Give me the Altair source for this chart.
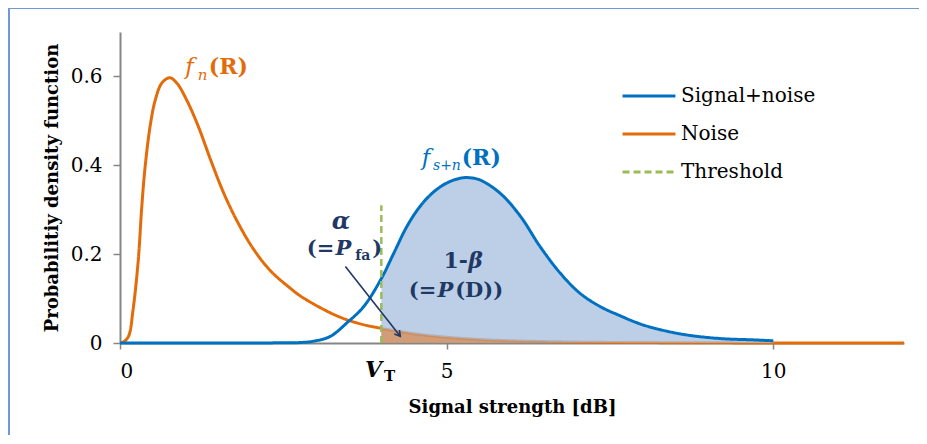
import altair as alt
import pandas as pd

# ---------------- data ----------------
X_DOMAIN = [0, 12]
Y_DOMAIN = [0, 0.7]
VT = 4.0
THRESH_TOP = 0.31

signal_x = [0, 1, 2, 2.5, 2.75, 2.96, 3.22, 3.47, 3.73, 4.0, 4.19, 4.39, 4.59, 4.80, 5.0,
            5.21, 5.35, 5.51, 5.82, 6.13, 6.43, 6.74, 7.04, 7.35, 7.66, 7.96, 8.27, 8.68,
            9.19, 9.7, 10.0]
signal_y = [0, 0, 0, 0.0005, 0.001, 0.004, 0.015, 0.045, 0.082, 0.145, 0.202, 0.262, 0.307,
            0.340, 0.360, 0.371, 0.372, 0.367, 0.337, 0.285, 0.217, 0.157, 0.112, 0.082,
            0.061, 0.043, 0.030, 0.018, 0.010, 0.007, 0.005]

noise_x = [0, 0.05, 0.13, 0.2, 0.28, 0.33, 0.38, 0.46, 0.54, 0.64, 0.76, 0.87, 1.02, 1.2,
           1.38, 1.58, 1.79, 2.04, 2.30, 2.60, 2.76, 3.06, 3.37, 3.68, 4.0, 4.5, 5.0, 5.5,
           6.0, 7.0, 8.0, 9.0, 10.0, 12.0]
noise_y = [0, 0.002, 0.015, 0.075, 0.187, 0.30, 0.39, 0.487, 0.547, 0.585, 0.597, 0.585,
           0.547, 0.487, 0.415, 0.340, 0.275, 0.212, 0.163, 0.124, 0.106, 0.080, 0.058,
           0.043, 0.033, 0.021, 0.013, 0.008, 0.005, 0.002, 0.001, 0.0005, 0, 0]

x_ticks = [0, 5, 10]
y_ticks = [0, 0.2, 0.4, 0.6]
series_names = ["Signal+noise", "Noise", "Threshold"]
series_colors = ["#0070C0", "#E36C0A", "#9BBB59"]
series_dash = [[1, 0], [1, 0], [7, 4]]

# arrow (alpha -> tail area), in data units
arrow_x = [3.45, 4.29]
arrow_y = [0.172, 0.015]

NAVY = "#1F3864"
FONT = "DejaVu Serif"

# annotation pieces: text, x, y (data units, left/baseline anchor), colour, size, style, weight
annotations = [
    ("f", 1.0, 0.606, series_colors[1], 23, "italic", "normal"),
    ("n", 1.19, 0.593, series_colors[1], 15, "italic", "normal"),
    ("(R)", 1.36, 0.606, series_colors[1], 22, "normal", "bold"),
    ("f", 4.62, 0.401, series_colors[0], 23, "italic", "normal"),
    ("s+n", 4.79, 0.390, series_colors[0], 14, "italic", "normal"),
    ("(R)", 5.23, 0.401, series_colors[0], 22, "normal", "bold"),
    ("α", 3.24, 0.257, NAVY, 24, "italic", "bold"),
    ("(=", 2.86, 0.199, NAVY, 21, "normal", "bold"),
    ("P", 3.30, 0.199, NAVY, 21, "italic", "bold"),
    ("fa", 3.60, 0.187, NAVY, 14, "normal", "bold"),
    (")", 3.86, 0.199, NAVY, 21, "normal", "bold"),
    ("1-", 4.95, 0.169, NAVY, 22, "normal", "bold"),
    ("β", 5.33, 0.169, NAVY, 22, "italic", "bold"),
    ("(=", 4.42, 0.104, NAVY, 21, "normal", "bold"),
    ("P", 4.86, 0.104, NAVY, 21, "italic", "bold"),
    ("(D))", 5.13, 0.104, NAVY, 21, "normal", "bold"),
    ("V", 3.75, -0.076, "#000000", 22, "italic", "bold"),
    ("T", 4.04, -0.085, "#000000", 15, "normal", "bold"),
]

# ---------------- chart ----------------
W, H = 784, 311

curves = pd.DataFrame({
    "x": signal_x + noise_x,
    "y": signal_y + noise_y,
    "series": ["Signal+noise"] * len(signal_x) + ["Noise"] * len(noise_x),
})
thr = pd.DataFrame({"x": [VT, VT], "y": [0, THRESH_TOP], "series": ["Threshold"] * 2})
arrow = pd.DataFrame({"x": arrow_x, "y": arrow_y})

xs = alt.Scale(domain=X_DOMAIN, nice=False, zero=False)
ys = alt.Scale(domain=Y_DOMAIN, nice=False)

legend = alt.Legend(
    title=None, orient="none", legendX=501, legendY=36,
    symbolType="stroke", symbolSize=2800, symbolStrokeWidth=3,
    labelFont=FONT, labelFontSize=20, labelColor="#000000",
    rowPadding=-3, labelOffset=4,
)
color = alt.Color("series:N", scale=alt.Scale(domain=series_names, range=series_colors), legend=legend)
dash = alt.StrokeDash("series:N", scale=alt.Scale(domain=series_names, range=series_dash), legend=legend)

x_axis = alt.Axis(
    values=x_ticks, format="d", title="Signal strength [dB]", grid=False,
    titleFont=FONT, titleFontSize=18, titleFontWeight="bold", titleColor="#000000", titlePadding=17,
    labelFont=FONT, labelFontSize=20, labelColor="#000000", labelPadding=12,
    tickSize=6, tickColor="#868686", tickWidth=1.5, domainColor="#868686", domainWidth=2,
)
y_axis = alt.Axis(
    values=y_ticks, labelExpr="datum.value == 0 ? '0' : format(datum.value, '.1f')",
    title="Probabilitiy density function", grid=False,
    titleFont=FONT, titleFontSize=18, titleFontWeight="bold", titleColor="#000000", titlePadding=9,
    labelFont=FONT, labelFontSize=20, labelColor="#000000", labelPadding=11,
    tickSize=7, tickColor="#868686", tickWidth=1.5, domainColor="#868686", domainWidth=2,
)

X = alt.X("x:Q", scale=xs, axis=x_axis)
Y = alt.Y("y:Q", scale=ys, axis=y_axis)

noise_line = alt.Chart(curves).transform_filter("datum.series == 'Noise'").mark_line(
    strokeWidth=3, interpolate="catmull-rom"
).encode(x=X, y=Y, color=color, strokeDash=dash)

blue_area = alt.Chart(curves).transform_filter(
    f"datum.series == 'Signal+noise' && datum.x >= {VT}"
).mark_area(color="#A9C1E0", opacity=0.78, interpolate="catmull-rom").encode(x=X, y=Y)

orange_area = alt.Chart(curves).transform_filter(
    f"datum.series == 'Noise' && datum.x >= {VT}"
).mark_area(color="#E36C0A", opacity=0.5, interpolate="catmull-rom").encode(x=X, y=Y)

signal_line = alt.Chart(curves).transform_filter("datum.series == 'Signal+noise'").mark_line(
    strokeWidth=3, interpolate="catmull-rom"
).encode(x=X, y=Y, color=color, strokeDash=dash)

thr_line = alt.Chart(thr).mark_line(strokeWidth=2.5).encode(
    x=X, y=Y, color=color, strokeDash=dash
)

arrow_line = alt.Chart(arrow).mark_line(color=NAVY, strokeWidth=1.6).encode(x=X, y=Y)
arrow_head = alt.Chart(arrow.iloc[[1]]).mark_point(
    shape="M -0.6 1 L 0 0 L 0.6 1", filled=False, stroke=NAVY, strokeWidth=1.6,
    size=120, angle=141.8, opacity=1,
).encode(x=X, y=Y)

texts = []
for t, x, y, c, s, st, wt in annotations:
    texts.append(
        alt.Chart(pd.DataFrame({"x": [x], "y": [y], "t": [t]})).mark_text(
            align="left", baseline="alphabetic", font=FONT, fontSize=s,
            fontStyle=st, fontWeight=wt, color=c,
        ).encode(x=X, y=Y, text="t:N")
    )

frame = alt.Chart(pd.DataFrame({"a": [0]})).mark_rect(
    fill="transparent", stroke="#6E9BD5", strokeWidth=2
).encode(x=alt.value(-111), x2=alt.value(1000), y=alt.value(-24), y2=alt.value(600))

chart = alt.layer(
    noise_line, blue_area, orange_area, signal_line, thr_line, arrow_line, arrow_head,
    *texts, frame,
).properties(
    width=W, height=H,
    autosize=alt.AutoSizeParams(type="none"),
    padding={"left": 112, "top": 24, "right": 15, "bottom": 92},
    background="white",
).configure_view(stroke=None)

chart.save("out.html", embed_options={"renderer": "svg", "actions": False})
